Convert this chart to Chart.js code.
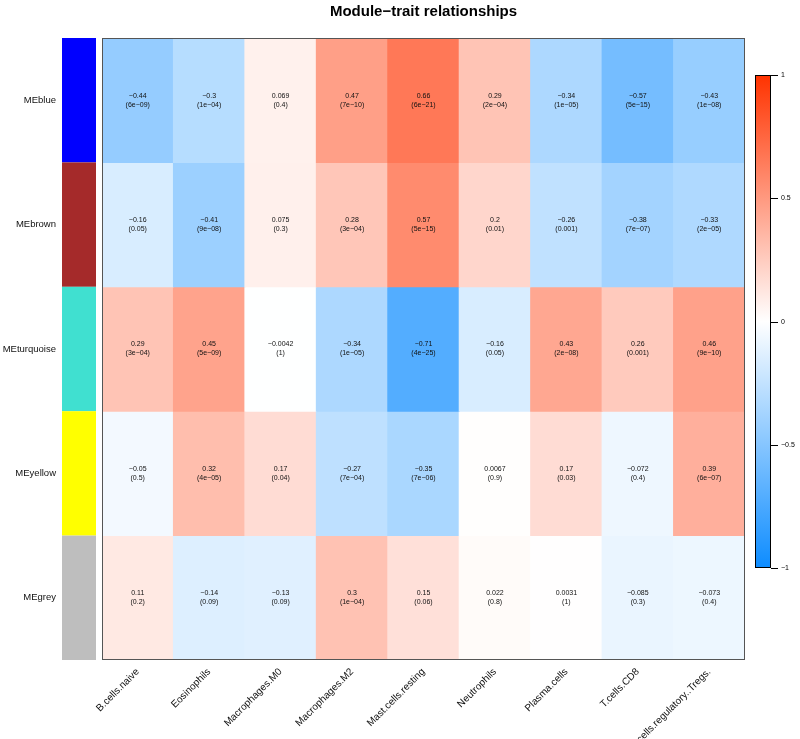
<!DOCTYPE html>
<html>
<head>
<meta charset="utf-8">
<script src="https://cdn.jsdelivr.net/npm/chart.js@4.4.1/dist/chart.umd.min.js"></script>
<style>
  html, body { margin: 0; padding: 0; background: #fff; }
</style>
</head>
<body>
<canvas id="heat" width="800" height="739"></canvas>
<script>
// modules (rows) and traits (columns)
var modules = ['MEblue', 'MEbrown', 'MEturquoise', 'MEyellow', 'MEgrey'];
var moduleColors = ['#0000FF', '#A52A2A', '#40E0D0', '#FFFF00', '#BEBEBE'];
var traits = ['B.cells.naive', 'Eosinophils', 'Macrophages.M0', 'Macrophages.M2',
  'Mast.cells.resting', 'Neutrophils', 'Plasma.cells', 'T.cells.CD8', 'T.cells.regulatory..Tregs.'];

// correlation per module row
var corBlue      = [-0.44, -0.3, 0.069, 0.47, 0.66, 0.29, -0.34, -0.57, -0.43];
var corBrown     = [-0.16, -0.41, 0.075, 0.28, 0.57, 0.2, -0.26, -0.38, -0.33];
var corTurquoise = [0.29, 0.45, -0.0042, -0.34, -0.71, -0.16, 0.43, 0.26, 0.46];
var corYellow    = [-0.05, 0.32, 0.17, -0.27, -0.35, 0.0067, 0.17, -0.072, 0.39];
var corGrey      = [0.11, -0.14, -0.13, 0.3, 0.15, 0.022, 0.0031, -0.085, -0.073];

// p-values per module row
var pBlue      = ['6e-09', '1e-04', '0.4', '7e-10', '6e-21', '2e-04', '1e-05', '5e-15', '1e-08'];
var pBrown     = ['0.05', '9e-08', '0.3', '3e-04', '5e-15', '0.01', '0.001', '7e-07', '2e-05'];
var pTurquoise = ['3e-04', '5e-09', '1', '1e-05', '4e-25', '0.05', '2e-08', '0.001', '9e-10'];
var pYellow    = ['0.5', '4e-05', '0.04', '7e-04', '7e-06', '0.9', '0.03', '0.4', '6e-07'];
var pGrey      = ['0.2', '0.09', '0.09', '1e-04', '0.06', '0.8', '1', '0.3', '0.4'];

var colorbarTicks = [1, 0.5, 0, -0.5, -1];

var corRows = [corBlue, corBrown, corTurquoise, corYellow, corGrey];
var pRows = [pBlue, pBrown, pTurquoise, pYellow, pGrey];

var MINUS = '\u2212';
var FONT = '"Liberation Sans", Arial, sans-serif';

// blue - white - red, like WGCNA blueWhiteRed
function corColor(v) {
  var t = Math.min(1, Math.abs(v));
  var end = v < 0 ? [13, 140, 255] : [255, 51, 0];
  var c = end.map(function (e) { return Math.round(255 + (e - 255) * t); });
  return 'rgb(' + c.join(',') + ')';
}
function fmt(s) { return String(s).replace(/-/g, MINUS); }

var datasets = modules.map(function (m, i) {
  return {
    label: m,
    data: traits.map(function () { return 1; }),
    backgroundColor: corRows[i].map(corColor),
    borderWidth: 0,
    barPercentage: 1,
    categoryPercentage: 1,
    inflateAmount: 0.5
  };
});

var decorPlugin = {
  id: 'decor',
  afterDatasetsDraw: function (chart) {
    var ctx = chart.ctx;
    var area = chart.chartArea;
    var xs = chart.scales.x, ys = chart.scales.y;

    // cell labels
    ctx.save();
    ctx.fillStyle = '#111';
    ctx.font = '7px ' + FONT;
    ctx.textAlign = 'center';
    ctx.textBaseline = 'middle';
    for (var i = 0; i < modules.length; i++) {
      var cy = ys.getPixelForValue(i + 0.5);
      for (var j = 0; j < traits.length; j++) {
        var cx = xs.getPixelForValue(j);
        var v = corRows[i][j];
        ctx.fillText(fmt(v), cx, cy - 4.5);
        ctx.fillText('(' + fmt(pRows[i][j]) + ')', cx, cy + 4.5);
      }
    }

    // plot border
    ctx.strokeStyle = '#555';
    ctx.lineWidth = 1;
    ctx.strokeRect(area.left + 0.5, area.top + 0.5, area.right - area.left - 1, area.bottom - area.top - 1);

    // module colour bar
    for (var k = 0; k < modules.length; k++) {
      var y0 = ys.getPixelForValue(k), y1 = ys.getPixelForValue(k + 1);
      ctx.fillStyle = moduleColors[k];
      ctx.fillRect(62, y0, 34, y1 - y0);
    }

    // title
    ctx.fillStyle = '#000';
    ctx.font = 'bold 15px ' + FONT;
    ctx.textAlign = 'center';
    ctx.fillText('Module' + MINUS + 'trait relationships', (area.left + area.right) / 2, 12);

    // colour legend
    var bx = 755, bw = 16, top = 75, bottom = 568;
    var g = ctx.createLinearGradient(0, top, 0, bottom);
    g.addColorStop(0, corColor(1));
    g.addColorStop(0.5, corColor(0));
    g.addColorStop(1, corColor(-1));
    ctx.fillStyle = g;
    ctx.fillRect(bx, top, bw, bottom - top);
    ctx.strokeStyle = '#000';
    ctx.strokeRect(bx + 0.5, top + 0.5, bw - 1, bottom - top - 1);
    ctx.font = '7px ' + FONT;
    ctx.textAlign = 'left';
    ctx.fillStyle = '#000';
    colorbarTicks.forEach(function (t) {
      var ty = Math.round(top + (1 - t) / 2 * (bottom - top)) + 0.5;
      ctx.beginPath();
      ctx.moveTo(bx + bw, ty);
      ctx.lineTo(bx + bw + 7, ty);
      ctx.stroke();
      ctx.fillText(fmt(t), bx + bw + 10, ty);
    });
    ctx.restore();
  }
};

var chart = new Chart(document.getElementById('heat').getContext('2d'), {
  type: 'bar',
  data: { labels: traits, datasets: datasets },
  options: {
    responsive: false,
    animation: false,
    layout: { padding: { top: 38, right: 55, left: 0, bottom: 0 } },
    plugins: { legend: { display: false }, tooltip: { enabled: false }, title: { display: false } },
    scales: {
      x: {
        stacked: true,
        grid: { display: false, drawTicks: false },
        border: { display: false },
        ticks: {
          color: '#111',
          font: { family: FONT, size: 10 },
          minRotation: 45, maxRotation: 45,
          autoSkip: false,
          padding: 6
        },
        afterFit: function (s) {
          s.height = 79;
          s.paddingLeft = 0; s.paddingRight = 0; s.paddingTop = 0; s.paddingBottom = 0;
        }
      },
      y: {
        stacked: true,
        reverse: true,
        min: 0, max: 5,
        grid: { display: false, drawTicks: false },
        border: { display: false },
        afterBuildTicks: function (axis) {
          axis.ticks = modules.map(function (m, i) { return { value: i + 0.5 }; });
        },
        ticks: {
          color: '#111',
          font: { family: FONT, size: 9.5 },
          padding: 46,
          callback: function (v, idx) { return modules[idx]; }
        },
        afterFit: function (s) {
          s.width = 102;
          s.paddingLeft = 0; s.paddingRight = 0; s.paddingTop = 0; s.paddingBottom = 0;
        }
      }
    }
  },
  plugins: [decorPlugin]
});
</script>
</body>
</html>
